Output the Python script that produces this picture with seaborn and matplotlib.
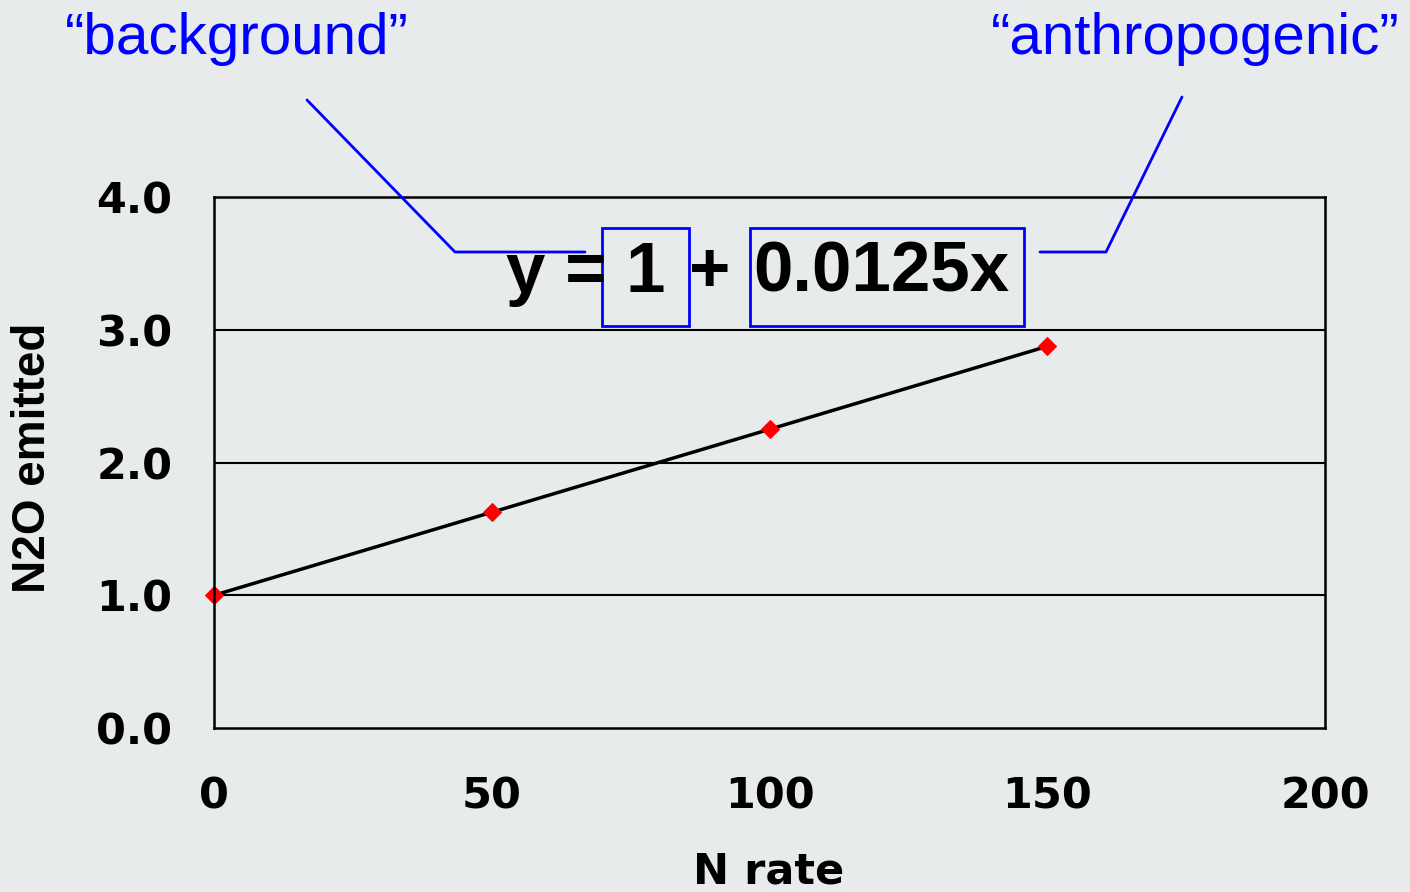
import matplotlib
matplotlib.use("Agg")
import matplotlib.pyplot as plt
import seaborn as sns
import pandas as pd
from matplotlib.lines import Line2D
from matplotlib.patches import Rectangle

# ------------ DATA ------------
n_rate = [0, 50, 100, 150]
n2o_emitted = [1.0, 1.625, 2.25, 2.875]
x_ticks = [0, 50, 100, 150, 200]
y_ticks = [0.0, 1.0, 2.0, 3.0, 4.0]
y_tick_labels = ["0.0", "1.0", "2.0", "3.0", "4.0"]
left_note = "\u201cbackground\u201d"
right_note = "\u201canthropogenic\u201d"
eq_parts = ["y =", "1", "+", "0.0125x"]

df = pd.DataFrame({"N rate": n_rate, "N2O emitted": n2o_emitted})

BG = "#e7ebec"
W, H = 1410, 892

sns.set_style("white")
plt.rcParams["font.family"] = ["DejaVu Sans"]
plt.rcParams["text.color"] = "black"
plt.rcParams["xtick.color"] = "black"
plt.rcParams["ytick.color"] = "black"

fig = plt.figure(figsize=(W / 100, H / 100), dpi=100, facecolor=BG)
ax = fig.add_axes([214 / W, 1 - 728 / H, (1325 - 214) / W, (728 - 197) / H])
ax.set_facecolor(BG)

sns.lineplot(data=df, x="N rate", y="N2O emitted", ax=ax, color="black", linewidth=2.5,
             marker="D", markersize=9, markerfacecolor="red", markeredgecolor="red", clip_on=False)

ax.set_xlim(0, 200)
ax.set_ylim(0, 4)
ax.set_xticks(x_ticks)
ax.set_xticklabels([str(v) for v in x_ticks])
ax.set_yticks(y_ticks)
ax.set_yticklabels(y_tick_labels)
for v in y_ticks[1:4]:
    ax.axhline(v, color="black", linewidth=1.5, zorder=0)

for s in ax.spines.values():
    s.set_visible(True)
    s.set_color("black")
    s.set_linewidth(1.8)

ax.tick_params(axis="both", direction="out", length=12, width=1.5, color="black",
               labelsize=31, labelcolor="black")
ax.tick_params(axis="y", pad=18)
ax.tick_params(axis="x", pad=22)
for lab in ax.get_xticklabels() + ax.get_yticklabels():
    lab.set_fontweight("heavy")

ax.set_xlabel("")
ax.set_ylabel("")
fig.text(769 / W, 1 - 883 / H, "N rate", ha="center", va="baseline",
         fontsize=31, fontweight="bold", color="black")
fig.text(33 / W, 1 - 458 / H, "N2O emitted", ha="center", va="center", rotation=90,
         fontsize=33, fontweight="bold", family="Liberation Sans", color="black")

# notes
fig.text(237 / W, 1 - 54 / H, left_note, ha="center", va="baseline", color="blue",
         fontsize=42, family="Liberation Sans")
fig.text(1195 / W, 1 - 54 / H, right_note, ha="center", va="baseline", color="blue",
         fontsize=42, family="Liberation Sans")

# equation pieces
eq_x = [556, 645, 710, 881]
for txt, px in zip(eq_parts, eq_x):
    fig.text(px / W, 1 - 292 / H, txt, ha="center", va="baseline", color="black",
             fontsize=51, fontweight="bold", family="Liberation Sans")

def px_line(xs, ys):
    fig.add_artist(Line2D([x / W for x in xs], [1 - y / H for y in ys], color="blue",
                          linewidth=2, transform=fig.transFigure))

px_line([307, 455, 585], [100, 252, 252])
px_line([1182, 1106, 1040], [97, 252, 252])
for x0, x1 in [(602, 689), (750, 1024)]:
    fig.add_artist(Rectangle((x0 / W, 1 - 326 / H), (x1 - x0) / W, (326 - 228) / H,
                             fill=False, edgecolor="blue", linewidth=2,
                             transform=fig.transFigure))

fig.savefig("out.png", dpi=100, facecolor=BG)
